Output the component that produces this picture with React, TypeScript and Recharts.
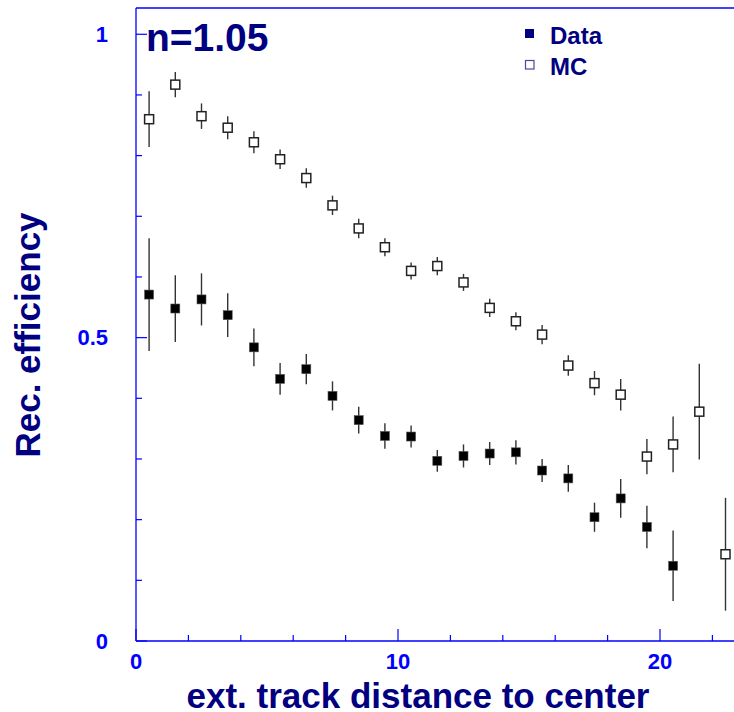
import { ErrorBar, Scatter, ScatterChart, XAxis, YAxis, ReferenceLine } from "recharts";

// bin centres of the distance histogram
const binCenters = [0.5, 1.5, 2.5, 3.5, 4.5, 5.5, 6.5, 7.5, 8.5, 9.5, 10.5, 11.5, 12.5, 13.5, 14.5, 15.5, 16.5, 17.5, 18.5, 19.5, 20.5, 21.5, 22.5];

const dataEff = [0.571, 0.548, 0.563, 0.537, 0.484, 0.432, 0.448, 0.404, 0.364, 0.338, 0.337, 0.297, 0.305, 0.309, 0.311, 0.281, 0.268, 0.204, 0.235, 0.188, 0.124];
const dataErr = [0.093, 0.055, 0.043, 0.036, 0.031, 0.026, 0.025, 0.024, 0.022, 0.021, 0.018, 0.018, 0.019, 0.019, 0.020, 0.019, 0.022, 0.024, 0.032, 0.035, 0.058];

const mcEff = [0.860, 0.917, 0.865, 0.846, 0.822, 0.794, 0.763, 0.718, 0.680, 0.649, 0.610, 0.618, 0.591, 0.549, 0.527, 0.505, 0.454, 0.425, 0.406, 0.304, 0.324, 0.378, 0.143];
const mcErr = [0.046, 0.021, 0.021, 0.019, 0.018, 0.016, 0.016, 0.016, 0.016, 0.015, 0.014, 0.015, 0.014, 0.015, 0.015, 0.016, 0.017, 0.020, 0.026, 0.029, 0.046, 0.079, 0.093];

const xTicks = [0, 2, 4, 6, 8, 10, 12, 14, 16, 18, 20, 22];
const xLabels = [0, 10, 20];
const yTicks = [0, 0.1, 0.2, 0.3, 0.4, 0.5, 0.6, 0.7, 0.8, 0.9, 1];
const yLabels = [0, 0.5, 1];

const X_MAX = 23;
const Y_MAX = 1.0433;

const AXIS_BLUE = "#0000ff";
const NAVY = "#000080";
const FONT = "'Liberation Sans', Arial, Helvetica, sans-serif";

const PLOT_LEFT = 136;
const PLOT_BOTTOM = 641;

const dataPoints = dataEff.map((y, i) => ({ x: binCenters[i], y, err: dataErr[i] }));
const mcPoints = mcEff.map((y, i) => ({ x: binCenters[i], y, err: mcErr[i] }));

const isLabel = (list: number[], v: number) => list.some((l) => Math.abs(l - v) < 1e-6);

function YTick(props: any) {
  const { y, payload } = props;
  const major = isLabel(yLabels, payload.value);
  return (
    <g>
      <line x1={PLOT_LEFT} x2={PLOT_LEFT + (major ? 11 : 6)} y1={y} y2={y} stroke={AXIS_BLUE} strokeWidth={1.2} />
      {major && (
        <text x={108} y={y} textAnchor="end" dominantBaseline="central" fill={AXIS_BLUE}
          style={{ fontFamily: FONT, fontWeight: 700, fontSize: 22 }}>
          {String(payload.value)}
        </text>
      )}
    </g>
  );
}

function XTick(props: any) {
  const { x, payload } = props;
  const major = isLabel(xLabels, payload.value);
  return (
    <g>
      <line x1={x} x2={x} y1={PLOT_BOTTOM} y2={PLOT_BOTTOM - (major ? 12 : 6)} stroke={AXIS_BLUE} strokeWidth={1.2} />
      {major && (
        <text x={x} y={669} textAnchor="middle" fill={AXIS_BLUE}
          style={{ fontFamily: FONT, fontWeight: 700, fontSize: 22 }}>
          {String(payload.value)}
        </text>
      )}
    </g>
  );
}

const FilledSquare = (p: any) => (
  <rect x={p.cx - 4.5} y={p.cy - 4.5} width={9} height={9} fill="#000" stroke="#555" strokeWidth={0.6} />
);

const OpenSquare = (p: any) => (
  <rect x={p.cx - 4.5} y={p.cy - 4.5} width={9} height={9} fill="#fff" stroke="#222" strokeWidth={1.5} />
);

export default function App() {
  return (
    <div style={{ position: "absolute", left: 0, top: 0, width: 734, height: 712, overflow: "hidden", background: "#fff" }}>
      <ScatterChart width={760} height={712} margin={{ top: 8, right: 21.4, bottom: 0, left: 0 }}>
        <XAxis type="number" dataKey="x" domain={[0, X_MAX]} ticks={xTicks} allowDataOverflow
          height={71} axisLine={{ stroke: AXIS_BLUE, strokeWidth: 1.3 }} tickLine={false} tick={<XTick />}
          tickSize={0} tickMargin={0} interval={0} />
        <YAxis type="number" dataKey="y" domain={[0, Y_MAX]} ticks={yTicks} allowDataOverflow
          width={136} axisLine={{ stroke: AXIS_BLUE, strokeWidth: 1.3 }} tickLine={false} tick={<YTick />}
          tickSize={0} tickMargin={0} interval={0} />
        <ReferenceLine y={Y_MAX} stroke={AXIS_BLUE} strokeWidth={1.3} ifOverflow="visible" />
        <Scatter name="MC" data={mcPoints} shape={OpenSquare} isAnimationActive={false}>
          <ErrorBar dataKey="err" direction="y" width={0} stroke="#333" strokeWidth={1.4} isAnimationActive={false} />
        </Scatter>
        <Scatter name="Data" data={dataPoints} shape={FilledSquare} isAnimationActive={false}>
          <ErrorBar dataKey="err" direction="y" width={0} stroke="#333" strokeWidth={1.4} isAnimationActive={false} />
        </Scatter>
      </ScatterChart>
      <svg width={734} height={712} style={{ position: "absolute", left: 0, top: 0, pointerEvents: "none" }}>
        <g style={{ fontFamily: FONT, fontWeight: 700 }} fill={NAVY}>
          <text x={146} y={50.5} fontSize={39}>n=1.05</text>
          <rect x={525} y={29} width={9} height={9} fill={NAVY} />
          <text x={550} y={44} fontSize={24}>Data</text>
          <rect x={525.5} y={60.5} width={8.5} height={8.5} fill="#fff" stroke="#4a4a9a" strokeWidth={1.2} />
          <text x={550} y={75} fontSize={24}>MC</text>
          <text x={418} y={708} fontSize={35} textAnchor="middle">ext. track distance to center</text>
          <text x={40} y={335} fontSize={35} textAnchor="middle" transform="rotate(-90 40 335)">Rec. efficiency</text>
        </g>
      </svg>
    </div>
  );
}
